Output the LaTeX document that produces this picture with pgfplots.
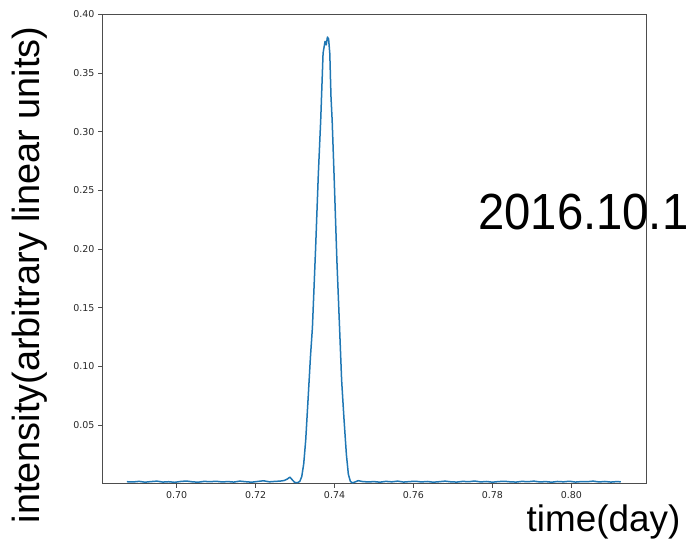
\documentclass[border=0pt]{standalone}
\usepackage{pgfplots}
\pgfplotsset{compat=1.18}
\usepackage{fontspec}
\usepackage{graphicx}
\setmainfont{Liberation Sans}
\newfontfamily\dejavu{DejaVu Sans}
\definecolor{mplblue}{HTML}{1F77B4}
\definecolor{spine}{HTML}{4D4D4D}
\begin{document}
\begin{tikzpicture}[x=1bp,y=1bp]
\useasboundingbox (0,0) rectangle (691,540);
\begin{axis}[
  at={(102bp,56.4bp)}, anchor=south west,
  scale only axis, width=544bp, height=469.2bp,
  xmin=0.6811, xmax=0.8189, ymin=0, ymax=0.4,
  xtick={0.70,0.72,0.74,0.76,0.78,0.80},
  ytick={0.05,0.10,0.15,0.20,0.25,0.30,0.35,0.40},
  xtick pos=bottom, ytick pos=left,
  tick align=outside, major tick length=4bp,
  tick style={spine, line width=0.8bp},
  axis line style={spine, line width=0.8bp},
  ticklabel style={font=\dejavu\fontsize{9.5}{11}\selectfont, text=black!85},
  /pgf/number format/assume math mode=true,
  xticklabel style={/pgf/number format/.cd, fixed, fixed zerofill, precision=2},
  yticklabel style={/pgf/number format/.cd, fixed, fixed zerofill, precision=2},
  scaled ticks=false,
]
\addplot[mplblue, line width=1.5bp, line join=round] table {
x y
0.6874 0.0016
0.6890 0.0014
0.6905 0.0019
0.6920 0.0012
0.6935 0.0017
0.6950 0.0021
0.6965 0.0013
0.6980 0.0016
0.6995 0.0011
0.7010 0.0018
0.7025 0.0022
0.7040 0.0015
0.7055 0.0012
0.7070 0.0019
0.7085 0.0016
0.7100 0.0020
0.7115 0.0014
0.7130 0.0017
0.7145 0.0013
0.7160 0.0021
0.7175 0.0016
0.7190 0.0012
0.7205 0.0018
0.7220 0.0024
0.7235 0.0015
0.7250 0.0019
0.7262 0.0021
0.7272 0.0026
0.7280 0.0038
0.7287 0.0055
0.7293 0.0032
0.7299 0.0010
0.7306 0.0008
0.7312 0.0018
0.7317 0.0060
0.7322 0.0170
0.7327 0.0370
0.7333 0.0720
0.7339 0.1080
0.7344 0.1330
0.7352 0.2000
0.7359 0.2640
0.7365 0.3100
0.7371 0.3670
0.7376 0.3770
0.7379 0.3740
0.7382 0.3807
0.7385 0.3790
0.7388 0.3668
0.7391 0.3300
0.7394 0.3097
0.7399 0.2614
0.7406 0.1900
0.7413 0.1308
0.7418 0.0880
0.7424 0.0550
0.7430 0.0250
0.7435 0.0080
0.7440 0.0020
0.7445 0.0006
0.7452 0.0014
0.7460 0.0025
0.7470 0.0018
0.7485 0.0014
0.7500 0.0017
0.7515 0.0012
0.7530 0.0019
0.7545 0.0015
0.7560 0.0021
0.7575 0.0013
0.7590 0.0017
0.7605 0.0020
0.7620 0.0014
0.7635 0.0018
0.7650 0.0012
0.7665 0.0016
0.7680 0.0021
0.7695 0.0015
0.7710 0.0013
0.7725 0.0019
0.7740 0.0016
0.7755 0.0022
0.7770 0.0014
0.7785 0.0018
0.7800 0.0012
0.7815 0.0017
0.7830 0.0020
0.7845 0.0015
0.7860 0.0013
0.7875 0.0019
0.7890 0.0016
0.7905 0.0021
0.7920 0.0014
0.7935 0.0017
0.7950 0.0012
0.7965 0.0018
0.7980 0.0015
0.7995 0.0020
0.8010 0.0013
0.8025 0.0017
0.8040 0.0016
0.8055 0.0021
0.8070 0.0014
0.8085 0.0018
0.8100 0.0013
0.8115 0.0017
0.8125 0.0015
};
\end{axis}
\node[rotate=90, font=\fontsize{38}{41}\selectfont, inner sep=0pt] at (30,265) {intensity(arbitrary linear units)};
\node[anchor=base, font=\fontsize{37}{40}\selectfont, inner sep=0pt] at (603.5,8) {time(day)};
\node[anchor=base west, font=\fontsize{51}{54}\selectfont, inner sep=0pt] at (478,310) {\scalebox{0.93}[1]{2016.10.1}};
\end{tikzpicture}
\end{document}
